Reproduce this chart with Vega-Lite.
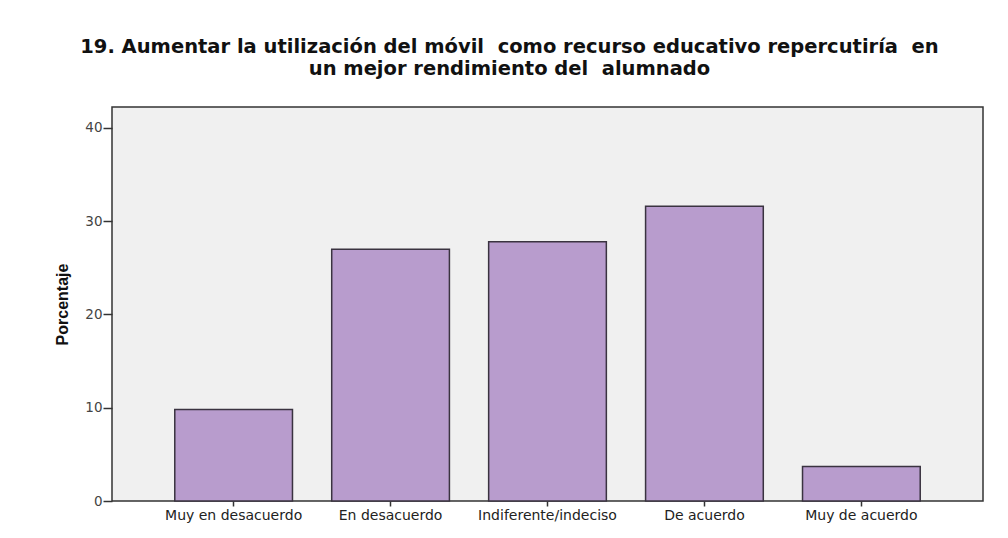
{
  "$schema": "https://vega.github.io/schema/vega-lite/v6.json",
  "width": 871,
  "height": 394,
  "autosize": {"type": "none"},
  "padding": {"left": 112, "top": 107, "right": 25, "bottom": 37},
  "background": "white",
  "title": {
    "text": ["19. Aumentar la utilización del móvil \u00a0como recurso educativo repercutiría \u00a0en", "un mejor rendimiento del \u00a0alumnado"],
    "font": "DejaVu Sans",
    "fontSize": 19.5,
    "fontWeight": "bold",
    "color": "#111111",
    "anchor": "middle",
    "dx": -38,
    "offset": 28,
    "lineHeight": 22
  },
  "data": {
    "values": [
      {"respuesta": "Muy en desacuerdo", "porcentaje": 9.8},
      {"respuesta": "En desacuerdo", "porcentaje": 27.0},
      {"respuesta": "Indiferente/indeciso", "porcentaje": 27.8},
      {"respuesta": "De acuerdo", "porcentaje": 31.6},
      {"respuesta": "Muy de acuerdo", "porcentaje": 3.7}
    ]
  },
  "mark": {"type": "bar", "fill": "#b89ccd", "stroke": "#3a3340", "strokeWidth": 1.5},
  "encoding": {
    "x": {
      "field": "respuesta",
      "type": "nominal",
      "sort": null,
      "scale": {"paddingInner": 0.25, "paddingOuter": 0.4},
      "axis": {
        "title": null,
        "labelAngle": 0,
        "labelFont": "DejaVu Sans",
        "labelFontSize": 14,
        "labelColor": "#222222",
        "tickColor": "#333333",
        "tickSize": 5,
        "tickWidth": 1.5,
        "domain": false,
        "labelPadding": 2
      }
    },
    "y": {
      "field": "porcentaje",
      "type": "quantitative",
      "scale": {"domain": [0, 42.25], "nice": false},
      "axis": {
        "title": "Porcentaje",
        "titleFont": "Liberation Sans",
        "titleFontSize": 16,
        "titleFontWeight": "bold",
        "titleColor": "#111111",
        "titlePadding": 14,
        "values": [0, 10, 20, 30, 40],
        "labelFont": "DejaVu Sans",
        "labelFontSize": 13.5,
        "labelColor": "#444444",
        "tickColor": "#333333",
        "tickSize": 9,
        "tickWidth": 1.5,
        "domain": false,
        "grid": false,
        "labelPadding": 1
      }
    }
  },
  "config": {
    "view": {"fill": "#f0f0f0", "stroke": "#333333", "strokeWidth": 1.5}
  }
}
